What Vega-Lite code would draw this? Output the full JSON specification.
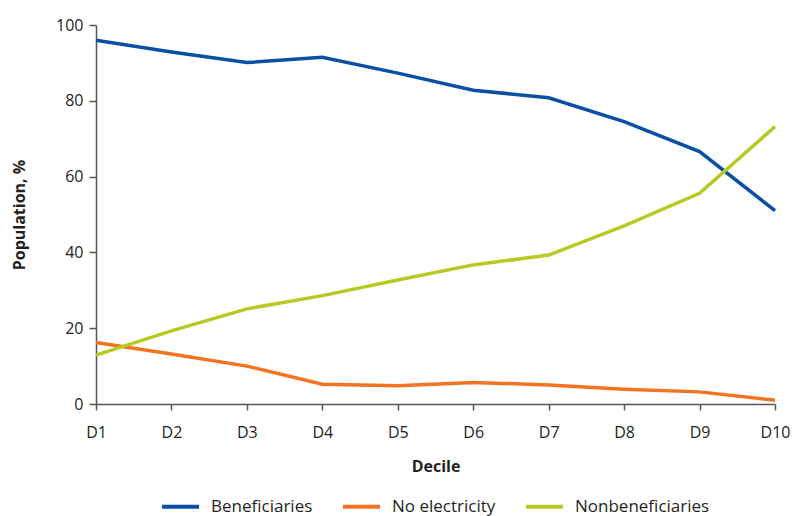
{
  "$schema": "https://vega.github.io/schema/vega-lite/v6.json",
  "width": 679,
  "height": 379,
  "autosize": {"type": "none"},
  "padding": {"left": 96, "top": 25, "right": 21, "bottom": 112},
  "background": "white",
  "config": {
    "view": {"stroke": null},
    "font": "Open Sans",
    "axis": {"grid": false, "domainColor": "#555555", "tickColor": "#555555", "domainWidth": 1.5, "tickWidth": 1.5, "labelColor": "#231f20", "titleColor": "#231f20"}
  },
  "data": {
    "values": [
      {"decile": "D1", "series": "Beneficiaries", "value": 96.0},
      {"decile": "D2", "series": "Beneficiaries", "value": 92.9},
      {"decile": "D3", "series": "Beneficiaries", "value": 90.1},
      {"decile": "D4", "series": "Beneficiaries", "value": 91.5},
      {"decile": "D5", "series": "Beneficiaries", "value": 87.3},
      {"decile": "D6", "series": "Beneficiaries", "value": 82.8},
      {"decile": "D7", "series": "Beneficiaries", "value": 80.8},
      {"decile": "D8", "series": "Beneficiaries", "value": 74.5},
      {"decile": "D9", "series": "Beneficiaries", "value": 66.6},
      {"decile": "D10", "series": "Beneficiaries", "value": 51.0},
      {"decile": "D1", "series": "No electricity", "value": 16.2},
      {"decile": "D2", "series": "No electricity", "value": 13.2},
      {"decile": "D3", "series": "No electricity", "value": 10.0},
      {"decile": "D4", "series": "No electricity", "value": 5.2},
      {"decile": "D5", "series": "No electricity", "value": 4.8},
      {"decile": "D6", "series": "No electricity", "value": 5.7},
      {"decile": "D7", "series": "No electricity", "value": 5.0},
      {"decile": "D8", "series": "No electricity", "value": 3.9},
      {"decile": "D9", "series": "No electricity", "value": 3.2},
      {"decile": "D10", "series": "No electricity", "value": 1.0},
      {"decile": "D1", "series": "Nonbeneficiaries", "value": 12.9},
      {"decile": "D2", "series": "Nonbeneficiaries", "value": 19.3},
      {"decile": "D3", "series": "Nonbeneficiaries", "value": 25.1},
      {"decile": "D4", "series": "Nonbeneficiaries", "value": 28.6},
      {"decile": "D5", "series": "Nonbeneficiaries", "value": 32.7},
      {"decile": "D6", "series": "Nonbeneficiaries", "value": 36.7},
      {"decile": "D7", "series": "Nonbeneficiaries", "value": 39.3},
      {"decile": "D8", "series": "Nonbeneficiaries", "value": 47.0},
      {"decile": "D9", "series": "Nonbeneficiaries", "value": 55.6},
      {"decile": "D10", "series": "Nonbeneficiaries", "value": 73.2}
    ]
  },
  "mark": {"type": "line", "strokeWidth": 3.5},
  "encoding": {
    "x": {
      "field": "decile", "type": "ordinal",
      "sort": ["D1","D2","D3","D4","D5","D6","D7","D8","D9","D10"],
      "scale": {"type": "point", "padding": 0},
      "axis": {"title": "Decile", "labelAngle": 0, "labelFontSize": 16, "titleFontSize": 16, "titleFontWeight": "bold", "labelPadding": 14, "titlePadding": 18, "tickSize": 6}
    },
    "y": {
      "field": "value", "type": "quantitative",
      "scale": {"domain": [0, 100]},
      "axis": {"title": "Population, %", "values": [0,20,40,60,80,100], "labelFontSize": 16, "titleFontSize": 16, "titleFontWeight": "bold", "labelPadding": 6, "titlePadding": 28, "tickSize": 7}
    },
    "color": {
      "field": "series", "type": "nominal",
      "scale": {"domain": ["Beneficiaries", "No electricity", "Nonbeneficiaries"], "range": ["#0a4fa3", "#f47321", "#b8c924"]},
      "legend": {"title": null, "orient": "none", "legendX": 64, "legendY": 461, "direction": "horizontal", "symbolType": "stroke", "symbolStrokeWidth": 4, "symbolSize": 1369, "labelFontSize": 17, "labelOffset": 10, "columnPadding": 22, "labelColor": "#231f20"}
    }
  }
}
